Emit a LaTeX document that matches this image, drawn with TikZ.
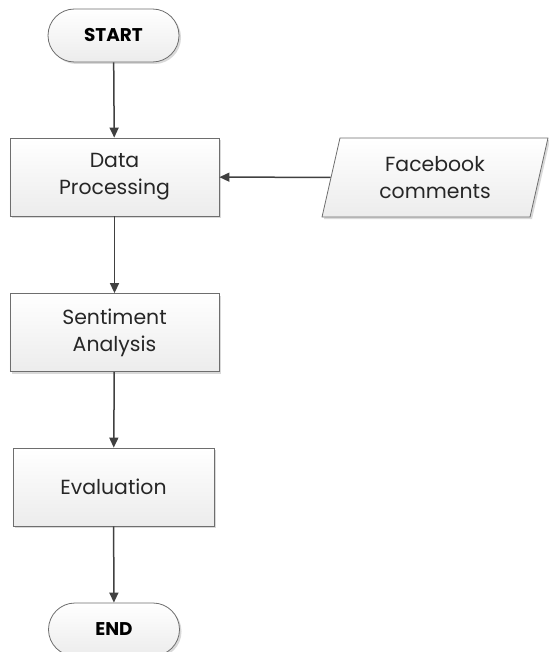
\documentclass[tikz,border=0pt]{standalone}
\usepackage{fontspec}
\setmainfont{Poppins}
\usetikzlibrary{shapes.geometric,shapes.misc,shadows,arrows.meta}
\definecolor{edgec}{HTML}{6E6E6E}
\definecolor{arrc}{HTML}{404040}
\definecolor{fillb}{HTML}{ECECEC}
\tikzset{
  base/.style={draw=edgec, line width=0.8bp, top color=white, bottom color=fillb,
    drop shadow={shadow xshift=2bp, shadow yshift=-2bp, fill=black!25, opacity=0.6},
    font=\fontsize{20.5}{27}\selectfont, text=black!85, align=center, inner sep=0pt},
  procbox/.style={base, rectangle, minimum width=209bp, minimum height=78bp},
  term/.style={base, rounded rectangle, minimum width=131bp, minimum height=53bp, font=\fontsize{18.5}{24}\selectfont\bfseries, text=black},
  iobox/.style={base, trapezium, trapezium left angle=76, trapezium right angle=104, minimum width=226bp, minimum height=79bp, trapezium stretches=true},
  conn/.style={draw=arrc, line width=1.5bp, -{Triangle[length=10bp,width=9bp]}}
}
\begin{document}
\begin{tikzpicture}[x=1bp,y=-1bp]
\useasboundingbox (0,0) rectangle (549,652);
\node[term] (start) at (113.5,35.5) {START};
\node[procbox] (dp) at (114.5,177) {Data\\Processing};
\node[iobox] (fb) at (435,177.5) {Facebook\\comments};
\node[procbox] (sa) at (114.5,332.5) {Sentiment\\Analysis};
\node[procbox, minimum width=201bp] (ev) at (113.5,487) {Evaluation};
\node[term] (end) at (114,629.5) {END};
\draw[conn] (start) -- (dp);
\draw[conn] (fb) -- (dp);
\draw[conn] (dp) -- (sa);
\draw[conn] (sa) -- (ev);
\draw[conn] (ev) -- (end);
\end{tikzpicture}
\end{document}
